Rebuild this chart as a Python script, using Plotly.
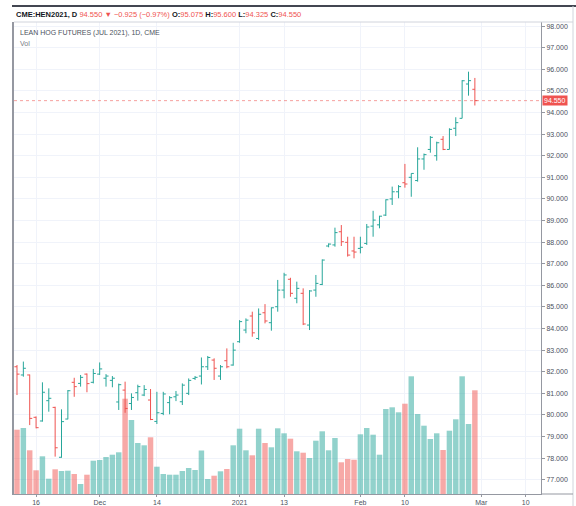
import pandas as pd
import plotly.graph_objs as go

holidays = ['2020-11-26', '2020-12-25', '2021-01-01', '2021-01-18', '2021-02-15']
dates = [d.strftime('%Y-%m-%d') for d in pd.bdate_range('2020-11-11', '2021-02-26')
         if d.strftime('%Y-%m-%d') not in holidays]
future_dates = [d.strftime('%Y-%m-%d') for d in pd.bdate_range('2021-03-01', '2021-03-12')]

opens = [82.23, 81.85, 81.85, 79.89, 79.72, 80.66, 80.35, 78.04, 79.81, 81.51,
         81.46, 81.89, 81.51, 81.89, 81.70, 81.60, 80.60, 81.15, 80.53, 81.03,
         80.92, 80.69, 79.70, 80.07, 80.57, 80.84, 80.61, 81.00, 81.69, 81.80,
         82.23, 82.54, 81.80, 82.51, 82.31, 83.39, 83.93, 84.58, 83.54, 84.73,
         84.27, 85.01, 85.78, 86.28, 85.40, 85.63, 84.16, 85.78, 86.04, 87.82,
         87.87, 88.48, 87.99, 87.59, 87.71, 87.94, 88.74, 88.80, 89.25, 90.00,
         90.33, 90.75, 91.00, 90.85, 91.85, 92.29, 92.00, 92.76, 92.29, 93.27,
         93.73, 95.32, 95.075]
highs = [82.31, 82.47, 81.87, 79.93, 81.51, 81.23, 80.38, 80.26, 81.15, 81.72,
         81.85, 81.92, 82.13, 82.43, 81.89, 81.80, 81.45, 81.54, 81.00, 81.40,
         81.38, 81.20, 81.07, 81.07, 80.87, 81.11, 81.46, 81.69, 81.80, 82.66,
         82.73, 82.62, 82.31, 83.08, 83.34, 84.39, 84.47, 84.78, 84.93, 85.13,
         84.98, 86.25, 86.58, 86.35, 86.17, 85.86, 85.78, 86.48, 87.20, 87.94,
         88.67, 88.79, 88.25, 88.25, 88.25, 88.84, 89.45, 89.22, 89.98, 90.57,
         90.64, 91.62, 91.18, 92.39, 92.10, 92.91, 92.65, 92.91, 93.27, 93.78,
         95.50, 95.89, 95.60]
lows = [80.92, 81.77, 79.53, 79.38, 79.69, 80.15, 78.07, 78.02, 79.80, 80.84,
        81.31, 81.05, 81.46, 81.85, 81.31, 81.28, 80.23, 80.10, 80.23, 80.66,
        80.87, 79.76, 79.58, 79.99, 80.03, 80.64, 80.46, 80.92, 81.62, 81.41,
        82.08, 81.62, 81.62, 82.16, 82.28, 83.34, 83.78, 83.62, 83.47, 84.24,
        83.90, 84.78, 85.40, 85.47, 85.17, 84.16, 83.93, 85.47, 86.01, 87.76,
        87.79, 87.82, 87.33, 87.25, 87.48, 87.87, 88.25, 88.64, 89.21, 89.72,
        90.03, 90.52, 90.10, 90.80, 91.35, 92.14, 91.77, 92.26, 92.29, 92.91,
        93.73, 94.78, 94.325]
closes = [81.89, 82.16, 79.84, 79.41, 81.05, 80.77, 78.48, 79.69, 81.12, 81.31,
          81.74, 81.45, 81.92, 82.13, 81.80, 81.70, 81.40, 80.30, 80.81, 81.31,
          81.18, 79.79, 80.10, 80.97, 80.80, 80.92, 81.38, 81.60, 81.74, 82.23,
          82.66, 82.16, 82.23, 82.23, 83.00, 84.32, 84.39, 83.80, 84.66, 84.35,
          84.96, 85.78, 86.48, 85.63, 85.86, 84.21, 85.74, 86.09, 87.17, 87.91,
          88.44, 88.02, 87.40, 87.54, 87.76, 88.70, 89.02, 89.20, 89.96, 90.33,
          90.57, 90.69, 91.18, 91.85, 92.05, 92.85, 92.60, 92.29, 93.22, 93.53,
          95.47, 95.475, 94.55]
volumes = [6430, 6600, 4370, 2370, 3770, 1530, 2470, 2300, 2330, 2000,
           1000, 1930, 3330, 3400, 3700, 3930, 4170, 9530, 7400, 5100,
           4870, 5670, 2730, 2000, 1930, 1930, 2300, 2600, 2400, 4350,
           1500, 1830, 2270, 2500, 4870, 6530, 4370, 3870, 6530, 5100,
           4670, 6570, 6070, 5530, 4270, 4130, 3600, 5330, 6270, 4370,
           5600, 3170, 3500, 3430, 5970, 6600, 5930, 3930, 8500, 8670,
           8170, 9030, 11770, 8000, 6830, 5500, 6070, 4400, 6330, 7470,
           11770, 7000, 10370]

tick_dates = ['2020-11-16', '2020-12-01', '2020-12-14', '2021-01-04', '2021-01-13',
              '2021-02-01', '2021-02-10', '2021-03-01', '2021-03-10']
tick_text = ['16', 'Dec', '14', '2021', '13', 'Feb', '10', 'Mar', '10']
price_ticks = list(range(77, 99))
last_price = 94.55

UP = '#26a69a'
DOWN = '#ef5350'
FONT = 'Liberation Sans'

# plot area in pixels: x 14..541, y 22..494
L, R, T, B = 14, 541, 22, 494


def px(x):
    return (x - L) / (R - L)


def py(y):
    return (B - y) / (B - T)


vol_colors = ['rgba(38,166,154,0.5)' if c >= o else 'rgba(239,83,80,0.5)'
              for o, c in zip(opens, closes)]

fig = go.Figure()
fig.add_trace(go.Bar(x=dates, y=volumes, marker=dict(color=vol_colors, line=dict(width=0)),
                     yaxis='y', showlegend=False, hoverinfo='skip'))
fig.add_trace(go.Ohlc(x=dates, open=opens, high=highs, low=lows, close=closes, yaxis='y2',
                      increasing=dict(line=dict(color=UP, width=1)),
                      decreasing=dict(line=dict(color=DOWN, width=1)),
                      tickwidth=0.4, showlegend=False))

fig.update_layout(
    width=576, height=506,
    margin=dict(l=L, r=576 - R, t=T, b=506 - B),
    paper_bgcolor='white', plot_bgcolor='white',
    font=dict(family=FONT, size=7, color='#4c525e'),
    bargap=0.14,
    xaxis=dict(type='category', categoryorder='array', categoryarray=dates + future_dates,
               range=[-0.47, 82.4], tickvals=tick_dates, ticktext=tick_text,
               showgrid=True, gridcolor='#f0f3fa', gridwidth=1, automargin=False,
               ticks='outside', ticklen=2, tickcolor='#9598a1',
               showline=True, linecolor='#9598a1', linewidth=1,
               tickfont=dict(size=7, color='#4c525e'), rangeslider=dict(visible=False)),
    yaxis=dict(range=[0, 47200], showgrid=False, zeroline=False, showticklabels=False,
               showline=True, linecolor='#9598a1', linewidth=2, ticks='', automargin=False),
    yaxis2=dict(overlaying='y', side='right', range=[76.34, 98.19],
                tickvals=price_ticks, tickformat='.3f', automargin=False,
                showgrid=True, gridcolor='#f0f3fa', gridwidth=1, zeroline=False,
                ticks='outside', ticklen=3, tickcolor='#9598a1',
                showline=True, linecolor='#9598a1', linewidth=1,
                tickfont=dict(size=7, color='#4c525e')),
)

# last price line and label
fig.add_shape(type='line', xref='paper', yref='y2', x0=0, x1=1, y0=last_price, y1=last_price,
              line=dict(color='rgba(239,83,80,0.55)', width=1, dash='dot'))
fig.add_annotation(xref='paper', yref='y2', x=1, y=last_price, xanchor='left', yanchor='middle',
                   text='{:.3f}'.format(last_price), showarrow=False, bgcolor=DOWN,
                   font=dict(color='white', size=7), borderpad=1, xshift=1)

# frame lines
fig.add_shape(type='line', xref='paper', yref='paper', x0=px(12), x1=px(576), y0=py(6), y1=py(6),
              line=dict(color='#434651', width=2))
fig.add_shape(type='line', xref='paper', yref='paper', x0=px(14), x1=px(573), y0=py(22), y1=py(22),
              line=dict(color='#d1d4dc', width=1))
fig.add_shape(type='line', xref='paper', yref='paper', x0=px(573), x1=px(573), y0=py(6), y1=py(506),
              line=dict(color='#d1d4dc', width=1))
fig.add_shape(type='line', xref='paper', yref='paper', x0=1, x1=px(573), y0=0, y1=0,
              line=dict(color='#9598a1', width=1))

# header
header = ("<b>CME:HEN2021, D</b> <span style='color:#ef5350'>94.550 ▼ −0.925 (−0.97%)</span> "
          "<b>O:</b><span style='color:#ef5350'>95.075</span> "
          "<b>H:</b><span style='color:#ef5350'>95.600</span> "
          "<b>L:</b><span style='color:#ef5350'>94.325</span> "
          "<b>C:</b><span style='color:#ef5350'>94.550</span>")
fig.add_annotation(xref='paper', yref='paper', x=px(14), y=py(15), xanchor='left', yanchor='middle',
                   text=header, showarrow=False, font=dict(size=7.5, color='#131722'))
fig.add_annotation(xref='paper', yref='paper', x=px(18), y=py(33), xanchor='left', yanchor='middle',
                   text='LEAN HOG FUTURES (JUL 2021), 1D, CME', showarrow=False,
                   font=dict(size=7, color='#4c525e'))
fig.add_annotation(xref='paper', yref='paper', x=px(18), y=py(44), xanchor='left', yanchor='middle',
                   text='Vol', showarrow=False, font=dict(size=7, color='#787b86'))

# page body has a default margin; remove it so the figure sits at the window origin
fig.write_html("out.html", config={'displayModeBar': False},
               post_script="document.body.style.margin='0';")
